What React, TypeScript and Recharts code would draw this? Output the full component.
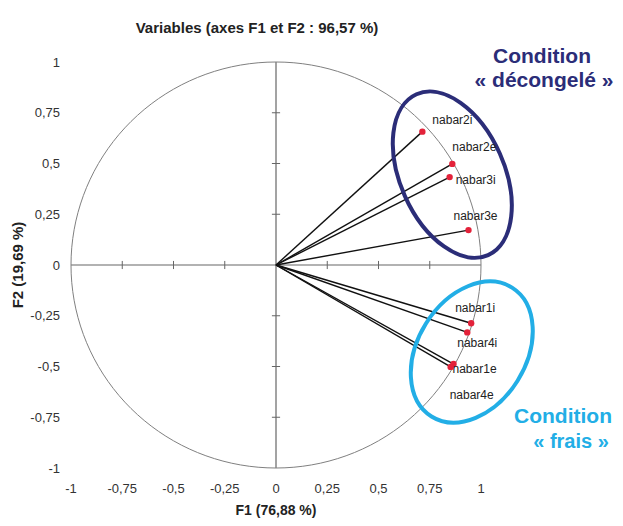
import { ScatterChart, Scatter, XAxis, YAxis, ReferenceLine, ReferenceDot } from "recharts";

// tick values shared by both axes
const TICKS = [-1, -0.75, -0.5, -0.25, 0, 0.25, 0.5, 0.75, 1];
const INNER_TICKS = [-0.75, -0.5, -0.25, 0.25, 0.5, 0.75];

// variable coordinates on F1 / F2
const VAR_NAMES = ["nabar2i", "nabar2e", "nabar3i", "nabar3e", "nabar1i", "nabar4i", "nabar1e", "nabar4e"];
const F1 = [0.714, 0.86, 0.847, 0.939, 0.952, 0.933, 0.866, 0.852];
const F2 = [0.657, 0.498, 0.433, 0.172, -0.287, -0.332, -0.488, -0.502];

// label placement relative to the dot (px)
const LABEL_OFFSET: Record<string, [number, number]> = {
  nabar2i: [10, -12],
  nabar2e: [0, -17],
  nabar3i: [6, 3],
  nabar3e: [-15, -14],
  nabar1i: [-16, -15],
  nabar4i: [-10, 11],
  nabar1e: [-1, 5],
  nabar4e: [-1, 28],
};

const vars = VAR_NAMES.map((name, i) => ({ name, x: F1[i], y: F2[i] }));

// unit correlation circle
const circle = Array.from({ length: 145 }, (_, i) => {
  const a = (i / 144) * Math.PI * 2;
  return { x: Math.cos(a), y: Math.sin(a) };
});

const fmt = (v: number) => String(v).replace(".", ",");
const FONT = "'Liberation Sans', Arial, sans-serif";
const NAVY = "#2b2d78";
const CYAN = "#22aee6";

const VarDot = (p: any) => {
  const [dx, dy] = LABEL_OFFSET[p.payload.name] || [4, -8];
  return (
    <g>
      <circle cx={p.cx} cy={p.cy} r={3.2} fill="#e3223a" />
      <text x={p.cx + dx} y={p.cy + dy} fontSize={12} fontFamily={FONT} fill="#222" dominantBaseline="central">
        {p.payload.name}
      </text>
    </g>
  );
};

const ellipse = (rx: number, ry: number, rot: number, color: string) => (p: any) => (
  <ellipse
    cx={p.cx}
    cy={p.cy}
    rx={rx}
    ry={ry}
    transform={`rotate(${rot} ${p.cx} ${p.cy})`}
    fill="none"
    stroke={color}
    strokeWidth={4}
  />
);

const txt = (left: number, top: number, size: number, color: string): React.CSSProperties => ({
  position: "absolute",
  left,
  top,
  transform: "translate(-50%, -50%)",
  whiteSpace: "nowrap",
  fontFamily: FONT,
  fontWeight: "bold",
  fontSize: size,
  color,
  lineHeight: 1,
});

export default function App() {
  return (
    <div style={{ position: "relative", width: 607, height: 510 }}>
      <ScatterChart width={607} height={510} margin={{ top: 54, right: 134, bottom: 20, left: 13 }}>
        <XAxis
          type="number"
          dataKey="x"
          domain={[-1, 1]}
          ticks={TICKS}
          tickFormatter={fmt}
          axisLine={false}
          tickLine={false}
          tickMargin={10}
          height={30}
          tick={{ fontSize: 13, fill: "#333", fontFamily: FONT }}
        />
        <YAxis
          type="number"
          dataKey="y"
          domain={[-1, 1]}
          ticks={TICKS}
          tickFormatter={fmt}
          axisLine={false}
          tickLine={false}
          tickMargin={5}
          width={50}
          tick={{ fontSize: 13, fill: "#333", fontFamily: FONT }}
        />
        <ReferenceLine x={0} stroke="#666" strokeWidth={1.2} />
        <ReferenceLine y={0} stroke="#666" strokeWidth={1.2} />
        {INNER_TICKS.map((t) => (
          <ReferenceLine key={`tx${t}`} segment={[{ x: t, y: -0.02 }, { x: t, y: 0.02 }]} stroke="#666" />
        ))}
        {INNER_TICKS.map((t) => (
          <ReferenceLine key={`ty${t}`} segment={[{ x: -0.02, y: t }, { x: 0.02, y: t }]} stroke="#666" />
        ))}
        <Scatter
          data={circle}
          line={{ stroke: "#808080", strokeWidth: 1 }}
          lineType="joint"
          shape={() => <g />}
          isAnimationActive={false}
        />
        {vars.map((v) => (
          <ReferenceLine
            key={v.name}
            segment={[{ x: 0, y: 0 }, { x: v.x, y: v.y }]}
            stroke="#111"
            strokeWidth={1.4}
          />
        ))}
        <ReferenceDot x={0.86} y={0.445} r={1} shape={ellipse(88, 52, 66, NAVY)} ifOverflow="visible" />
        <ReferenceDot x={0.955} y={-0.429} r={1} shape={ellipse(76, 54, -58, CYAN)} ifOverflow="visible" />
        <Scatter data={vars} shape={VarDot} isAnimationActive={false} />
      </ScatterChart>

      <div style={txt(249, 19, 15, "#222")}>Variables (axes F1 et F2 : 96,57 %)</div>
      <div style={txt(268, 502, 14, "#222")}>F1 (76,88 %)</div>
      <div style={{ ...txt(9, 257, 15, "#222"), transform: "translate(-50%, -50%) rotate(-90deg)" }}>F2 (19,69 %)</div>

      <div style={txt(534, 47, 21, NAVY)}>Condition</div>
      <div style={txt(536, 71, 21, NAVY)}>« décongelé »</div>
      <div style={txt(555, 407, 21, CYAN)}>Condition</div>
      <div style={txt(563, 433, 20, CYAN)}>« frais »</div>
    </div>
  );
}
